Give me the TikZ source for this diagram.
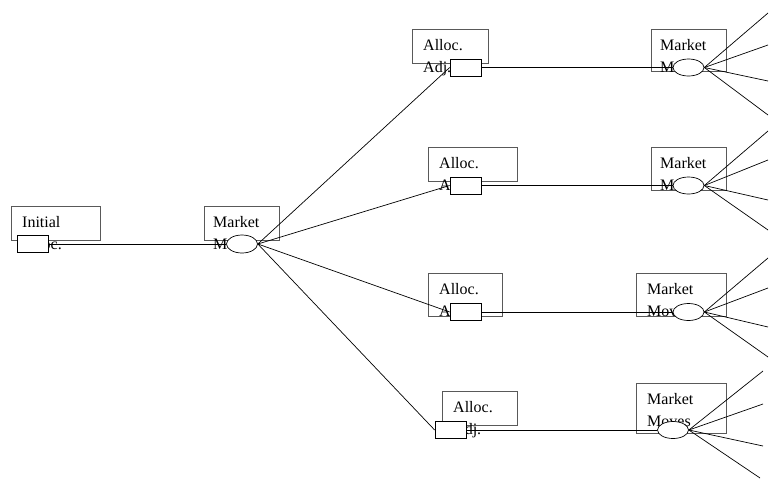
\documentclass[tikz,border=0pt]{standalone}
\usepackage{fontspec}
\setmainfont{Liberation Serif}
\usetikzlibrary{shapes.geometric}

\begin{document}
\begin{tikzpicture}[x=1pt, y=-1pt,
    lblbox/.style={draw=black!65, line width=.9, inner sep=0, anchor=north west},
    lbltext/.style={anchor=north west, inner sep=0, align=left, font=\fontsize{16}{22}\selectfont},
    decbox/.style={draw, line width=.7, fill=white, minimum width=31, minimum height=17, inner sep=0},
    chance/.style={draw, ellipse, line width=.7, fill=white, minimum width=31, minimum height=18, inner sep=0},
    branch/.style={line width=.7}]
    \useasboundingbox (0,0) rectangle (770,480);

    \node[lblbox, minimum width=89, minimum height=34] (initbox) at (11,206) {};
    \node[lblbox, minimum width=75, minimum height=34] (rootbox) at (204,206) {};
    \node[lblbox, minimum width=76, minimum height=34] (adjbox1) at (412,29) {};
    \node[lblbox, minimum width=89, minimum height=34] (adjbox2) at (428,147) {};
    \node[lblbox, minimum width=74, minimum height=43] (adjbox3) at (428,273) {};
    \node[lblbox, minimum width=75, minimum height=34] (adjbox4) at (442,391) {};
    \node[lblbox, minimum width=75, minimum height=42] (mktbox1) at (651,29) {};
    \node[lblbox, minimum width=75, minimum height=43] (mktbox2) at (651,147) {};
    \node[lblbox, minimum width=90, minimum height=43] (mktbox3) at (636,273) {};
    \node[lblbox, minimum width=90, minimum height=50] (mktbox4) at (636,383) {};

    \node[lbltext] (inittext) at ([shift={(11,10)}]initbox.north west) {Initial\\Alloc.};
    \node[lbltext] (roottext) at ([shift={(9,10)}]rootbox.north west) {Market\\Moves};
    \node[lbltext] (adjtext1) at ([shift={(11,10.5)}]adjbox1.north west) {Alloc.\\Adj.};
    \node[lbltext] (adjtext2) at ([shift={(11,10.5)}]adjbox2.north west) {Alloc.\\Adj.};
    \node[lbltext] (adjtext3) at ([shift={(11,10.5)}]adjbox3.north west) {Alloc.\\Adj.};
    \node[lbltext] (adjtext4) at ([shift={(11,10.5)}]adjbox4.north west) {Alloc.\\Adj.};
    \node[lbltext] (mkttext1) at ([shift={(9,10)}]mktbox1.north west) {Market\\Moves};
    \node[lbltext] (mkttext2) at ([shift={(9,10)}]mktbox2.north west) {Market\\Moves};
    \node[lbltext] (mkttext3) at ([shift={(11,10)}]mktbox3.north west) {Market\\Moves};
    \node[lbltext] (mkttext4) at ([shift={(11,10)}]mktbox4.north west) {Market\\Moves};

    \node[decbox] (init) at (33,244) {};
    \node[chance] (root) at (242,244) {};
    \node[decbox] (adj1) at (465.5,67.5) {};
    \node[decbox] (adj2) at (465.5,185.5) {};
    \node[decbox] (adj3) at (465.5,312) {};
    \node[decbox] (adj4) at (450.5,430) {};
    \node[chance, minimum height=17] (mkt1) at (688.5,67.5) {};
    \node[chance, minimum height=17] (mkt2) at (688.5,185.5) {};
    \node[chance, minimum height=17] (mkt3) at (688.5,312) {};
    \node[chance, minimum height=17] (mkt4) at (673,430) {};

    \coordinate (leaf1a) at (768,13);
    \coordinate (leaf1b) at (768,45);
    \coordinate (leaf1c) at (768,81);
    \coordinate (leaf1d) at (768,115);
    \coordinate (leaf2a) at (768,131);
    \coordinate (leaf2b) at (768,160);
    \coordinate (leaf2c) at (768,200);
    \coordinate (leaf2d) at (768,230);
    \coordinate (leaf3a) at (768,258);
    \coordinate (leaf3b) at (768,288);
    \coordinate (leaf3c) at (768,327);
    \coordinate (leaf3d) at (768,357);
    \coordinate (leaf4a) at (763,371);
    \coordinate (leaf4b) at (763,404);
    \coordinate (leaf4c) at (763,446);
    \coordinate (leaf4d) at (760,478);

    \draw[branch] (init.east) -- (root.west);
    \draw[branch] (root.east) -- (adj1.west);
    \draw[branch] (root.east) -- (adj2.west);
    \draw[branch] (root.east) -- (adj3.west);
    \draw[branch] (root.east) -- (adj4.west);

    \draw[branch] (adj1.east) -- (mkt1.west);
    \draw[branch] (adj2.east) -- (mkt2.west);
    \draw[branch] (adj3.east) -- (mkt3.west);
    \draw[branch] (adj4.east) -- (mkt4.west);

    \draw[branch] (mkt1.east) -- (leaf1a);
    \draw[branch] (mkt1.east) -- (leaf1b);
    \draw[branch] (mkt1.east) -- (leaf1c);
    \draw[branch] (mkt1.east) -- (leaf1d);
    \draw[branch] (mkt2.east) -- (leaf2a);
    \draw[branch] (mkt2.east) -- (leaf2b);
    \draw[branch] (mkt2.east) -- (leaf2c);
    \draw[branch] (mkt2.east) -- (leaf2d);
    \draw[branch] (mkt3.east) -- (leaf3a);
    \draw[branch] (mkt3.east) -- (leaf3b);
    \draw[branch] (mkt3.east) -- (leaf3c);
    \draw[branch] (mkt3.east) -- (leaf3d);
    \draw[branch] (mkt4.east) -- (leaf4a);
    \draw[branch] (mkt4.east) -- (leaf4b);
    \draw[branch] (mkt4.east) -- (leaf4c);
    \draw[branch] (mkt4.east) -- (leaf4d);
\end{tikzpicture}
\end{document}
